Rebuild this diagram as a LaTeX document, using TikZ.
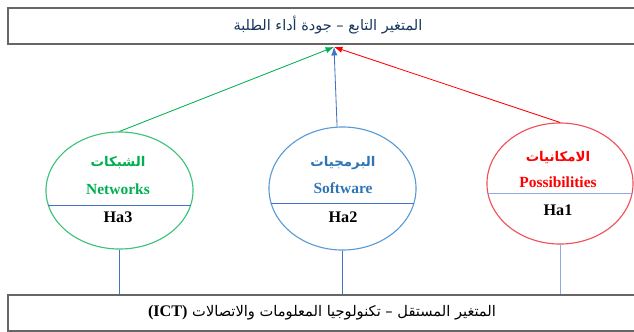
\documentclass[tikz,border=0pt]{standalone}
\usepackage{fontspec}
\setmainfont{Liberation Serif}
\newfontfamily\arabicfont[Script=Arabic]{DejaVu Sans}
\TeXXeTstate=1
\usetikzlibrary{shapes.geometric,arrows.meta}
\definecolor{netgreen}{HTML}{00B050}
\definecolor{ovalgreen}{HTML}{3CC27A}
\definecolor{softblue}{HTML}{2E75B6}
\definecolor{ovalblue}{HTML}{5B9BD5}
\definecolor{linkblue}{HTML}{4472C4}
\definecolor{posred}{HTML}{FF0000}
\definecolor{ovalred}{HTML}{F0505A}
\definecolor{boxgray}{HTML}{666666}
\definecolor{titlenavy}{HTML}{17365D}

\begin{document}
\begin{tikzpicture}[x=0.025cm,y=-0.025cm,
	box/.style={draw=boxgray,line width=1.3pt,minimum width=16cm,minimum height=0.9cm,inner sep=0pt},
	oval/.style={ellipse,line width=0.8pt,inner sep=0pt},
	arname/.style={font=\fontsize{9.5}{10}\arabicfont\bfseries},
	enname/.style={font=\fontsize{11}{12}\selectfont\bfseries},
	hyp/.style={font=\fontsize{11.5}{12}\selectfont\bfseries},
	link/.style={draw=linkblue,line width=0.6pt},
	feed/.style={line width=0.6pt,-{Latex[length=6pt,width=4.5pt]}}]
				\useasboundingbox (0,0) rectangle (634,331);

				% dependent and independent variable
				\node[box,anchor=north west] (dep) at (7,7) {};
				\node[font=\fontsize{10.3}{11}\arabicfont,text=titlenavy] (deptxt) at (328,25)
				{\beginR المتغير التابع – جودة أداء الطلبة\endR};
				\node[box,anchor=north west] (indep) at (7,294) {};
				\node[font=\fontsize{10.4}{11}\arabicfont] (indeptxt) at (322,313)
				{\beginR المتغير المستقل – تكنولوجيا المعلومات والاتصالات \beginL{\rmfamily\bfseries\fontsize{11.5}{12}\selectfont(ICT)}\endL\endR};

				% the three dimensions
				\node[oval,draw=ovalgreen,minimum width=3.675cm,minimum height=2.925cm] (net) at (119.5,190.5) {};
				\node[oval,draw=ovalblue,minimum width=3.675cm,minimum height=3.075cm] (soft) at (342.5,188.5) {};
				\node[oval,draw=ovalred,minimum width=3.65cm,minimum height=3.025cm] (pos) at (560,183.5) {};

				\draw[link] (net.192) -- (net.-12);
				\draw[link] (soft.192) -- (soft.-12);
				\draw[link,draw=linkblue!60] (pos.188) -- (pos.-8);

				\node[arname,text=netgreen] (netar) at (118,163) {\beginR الشبكات\endR};
				\node[enname,text=netgreen] (neten) at (118,189) {Networks};
				\node[hyp] (ha3) at (118,217) {Ha3};
				\node[arname,text=softblue] (softar) at (343,163) {\beginR البرمجيات\endR};
				\node[enname,text=softblue] (soften) at (343,188) {Software};
				\node[hyp] (ha2) at (343,217) {Ha2};
				\node[arname,text=posred] (posar) at (558,158) {\beginR الامكانيات\endR};
				\node[enname,text=posred] (posen) at (558,182) {Possibilities};
				\node[hyp] (ha1) at (558,210) {Ha1};

				% links to the independent variable
				\draw[link] (net.south) -- (net.south |- indep.north);
				\draw[link] (soft.south) -- (soft.south |- indep.north);
				\draw[link,draw=linkblue!60] (pos.south) -- (pos.south |- indep.north);

				% effect on the dependent variable
				\coordinate (tip) at (334,47);
				\draw[feed,netgreen] (net.north) -- (tip);
				\draw[feed,linkblue] (soft.95) -- (tip);
				\draw[feed,posred] (pos.north) -- (tip);
\end{tikzpicture}
\end{document}
